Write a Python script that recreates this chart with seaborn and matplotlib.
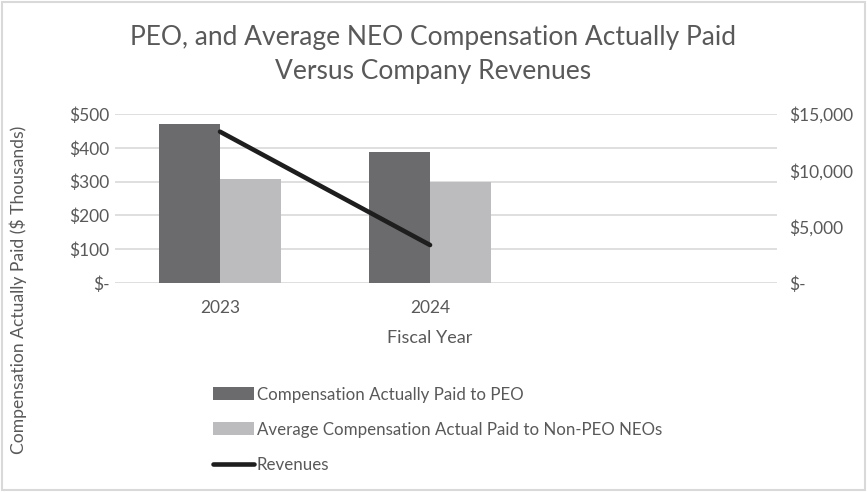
import matplotlib
matplotlib.use("Agg")
import matplotlib.pyplot as plt
import seaborn as sns
import numpy as np
import pandas as pd
from matplotlib.patches import Patch, Rectangle
from matplotlib.lines import Line2D
from matplotlib.ticker import FuncFormatter

years = ["2023", "2024"]
peo_cap = [469, 387]
neo_cap = [308, 300]
revenues = [13430, 3370]
series_names = ["Compensation Actually Paid to PEO",
                "Average Compensation Actual Paid to Non-PEO NEOs"]
line_name = "Revenues"
left_ticks = [0, 100, 200, 300, 400, 500]
right_ticks = [0, 5000, 10000, 15000]

sns.set_theme(style="white")
FONT = "Lato"
TXT = "#595959"
plt.rcParams['font.family'] = [FONT, 'DejaVu Sans']

df = pd.DataFrame({
    "Year": years * 2,
    "Value": peo_cap + neo_cap,
    "Series": [series_names[0]] * len(years) + [series_names[1]] * len(years),
})

colors = ["#6b6b6d", "#bcbcbe"]

fig = plt.figure(figsize=(8.67, 4.92), dpi=100)
ax = fig.add_axes([115/867, 1 - 283/492, (777-115)/867, (283-114)/492])

sns.barplot(data=df, x="Year", y="Value", hue="Series", order=years,
            hue_order=series_names, palette=colors, width=0.58,
            saturation=1, ax=ax, legend=False, errorbar=None, linewidth=0)

ax.set_ylim(0, 500)
ax.set_xlim(-0.5, 2.652)
ax.set_yticks(left_ticks)
ax.yaxis.set_major_formatter(FuncFormatter(lambda v, p: "$-" if v == 0 else f"${v:,.0f}"))
ax.grid(axis="y", color="#d9d9d9", linewidth=1.2)
ax.set_axisbelow(True)
for s in ax.spines.values():
    s.set_visible(False)
ax.tick_params(axis="both", length=0, labelsize=12.5, labelcolor=TXT)
ax.tick_params(axis="y", pad=4)
ax.tick_params(axis="x", pad=12)
ax.set_xlabel("")
ax.set_ylabel("")

ax2 = ax.twinx()
sns.lineplot(x=np.arange(len(years)), y=revenues, ax=ax2, color="#1e1e1e",
             linewidth=3.3, solid_capstyle="round")
ax2.set_ylim(0, 15000)
ax2.set_yticks(right_ticks)
ax2.yaxis.set_major_formatter(FuncFormatter(lambda v, p: "$-" if v == 0 else f"${v:,.0f}"))
for s in ax2.spines.values():
    s.set_visible(False)
ax2.tick_params(axis="y", length=0, labelsize=12.5, labelcolor=TXT, pad=9)
ax2.set_ylabel("")
ax2.set_xlim(-0.5, 2.652)

fig.text(433/867, 1 - 54/492,
         "PEO, and Average NEO Compensation Actually Paid\nVersus Company Revenues",
         ha="center", va="center", fontsize=19, color=TXT, linespacing=1.45)
fig.text(430/867, 1 - 338/492, "Fiscal Year", ha="center", va="center",
         fontsize=13, color=TXT)
fig.text(18/867, 1 - 290/492, "Compensation Actually Paid ($ Thousands)",
         ha="center", va="center", rotation=90, fontsize=12.6, color=TXT)

handles = [Patch(facecolor=colors[0], edgecolor="none"),
           Patch(facecolor=colors[1], edgecolor="none"),
           Line2D([0], [0], color="#1e1e1e", linewidth=3.3)]
leg = fig.legend(handles, series_names + [line_name],
                 loc="upper left", bbox_to_anchor=(206/867, 1 - 380/492),
                 frameon=False, fontsize=12.2, labelcolor=TXT,
                 handlelength=2.45, handleheight=0.8, handletextpad=0.15,
                 labelspacing=1.12, borderaxespad=0)

fig.patches.append(Rectangle((2/867, 2/492), 1 - 4/867, 1 - 4/492,
                             transform=fig.transFigure, fill=False,
                             edgecolor="#d9d9d9", linewidth=1.5))

fig.savefig("out.png", dpi=100)
